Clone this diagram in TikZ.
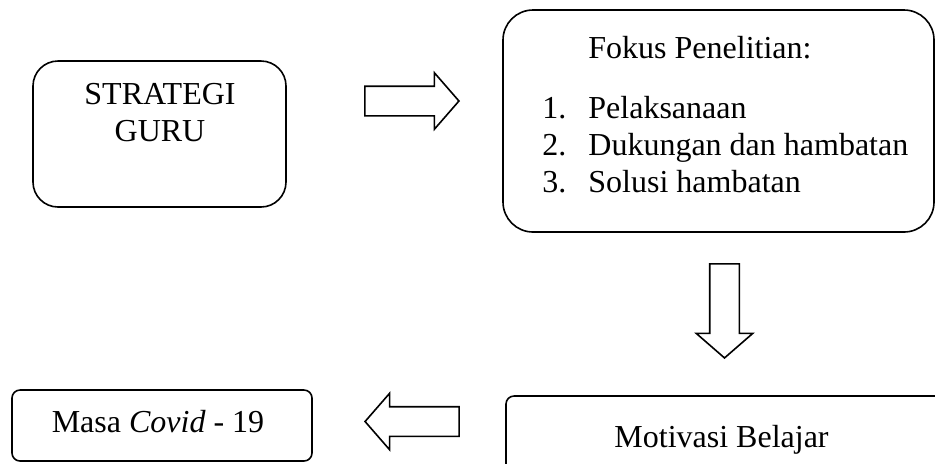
\documentclass[tikz,border=0pt]{standalone}
\usepackage{fontspec}
\setmainfont{Liberation Serif}
\usetikzlibrary{shapes.arrows}

\begin{document}
\begin{tikzpicture}[x=0.5pt, y=-0.5pt, every node/.style={font=\fontsize{16}{19}\selectfont, inner sep=0pt},
	kotak/.style={draw, line width=0.8pt, rounded corners=#1},
	panah/.style={draw, line width=0.8pt, single arrow, single arrow head extend=6.75pt, single arrow tip angle=98, single arrow head indent=0pt, minimum height=47pt, inner sep=7pt}]
	\useasboundingbox (0,0) rectangle (935,463);
	% kotak
	\node[kotak=12.5pt, minimum width=126.5pt, minimum height=73pt] (strategi) at (159.5,134) {};
	\node[kotak=15pt, minimum width=215.5pt, minimum height=111pt] (fokus) at (718.5,121) {};
	\node[kotak=4pt, minimum width=222pt, minimum height=39.5pt] (motivasi) at (728,435.5) {};
	\node[kotak=4pt, minimum width=150pt, minimum height=35.5pt] (covid) at (162,425.5) {};
	% teks
	\node[anchor=base] (strategi1) at (160,104) {STRATEGI};
	\node[anchor=base] (strategi2) at (160,141) {GURU};
	\node[anchor=base west] (judul) at (588,58) {Fokus Penelitian:};
	\foreach \yb/\teks [count=\k] in {118/Pelaksanaan, 155/Dukungan dan hambatan, 192/Solusi hambatan} {
		\node[anchor=base west] (no\k) at (542,\yb) {\k.};
		\node[anchor=base west] (item\k) at (588,\yb) {\teks};
	}
	\node[anchor=base] (teksmotivasi) at (721.5,447) {Motivasi Belajar};
	\node[anchor=base] (tekscovid) at (158,432) {Masa \textit{Covid} - 19};
	% panah
	\node[panah] (panah1) at (405.5,101) {};
	\node[panah, shape border rotate=270] (panah2) at (724.5,304.5) {};
	\node[panah, shape border rotate=180] (panah3) at (418.5,421.5) {};
\end{tikzpicture}
\end{document}
